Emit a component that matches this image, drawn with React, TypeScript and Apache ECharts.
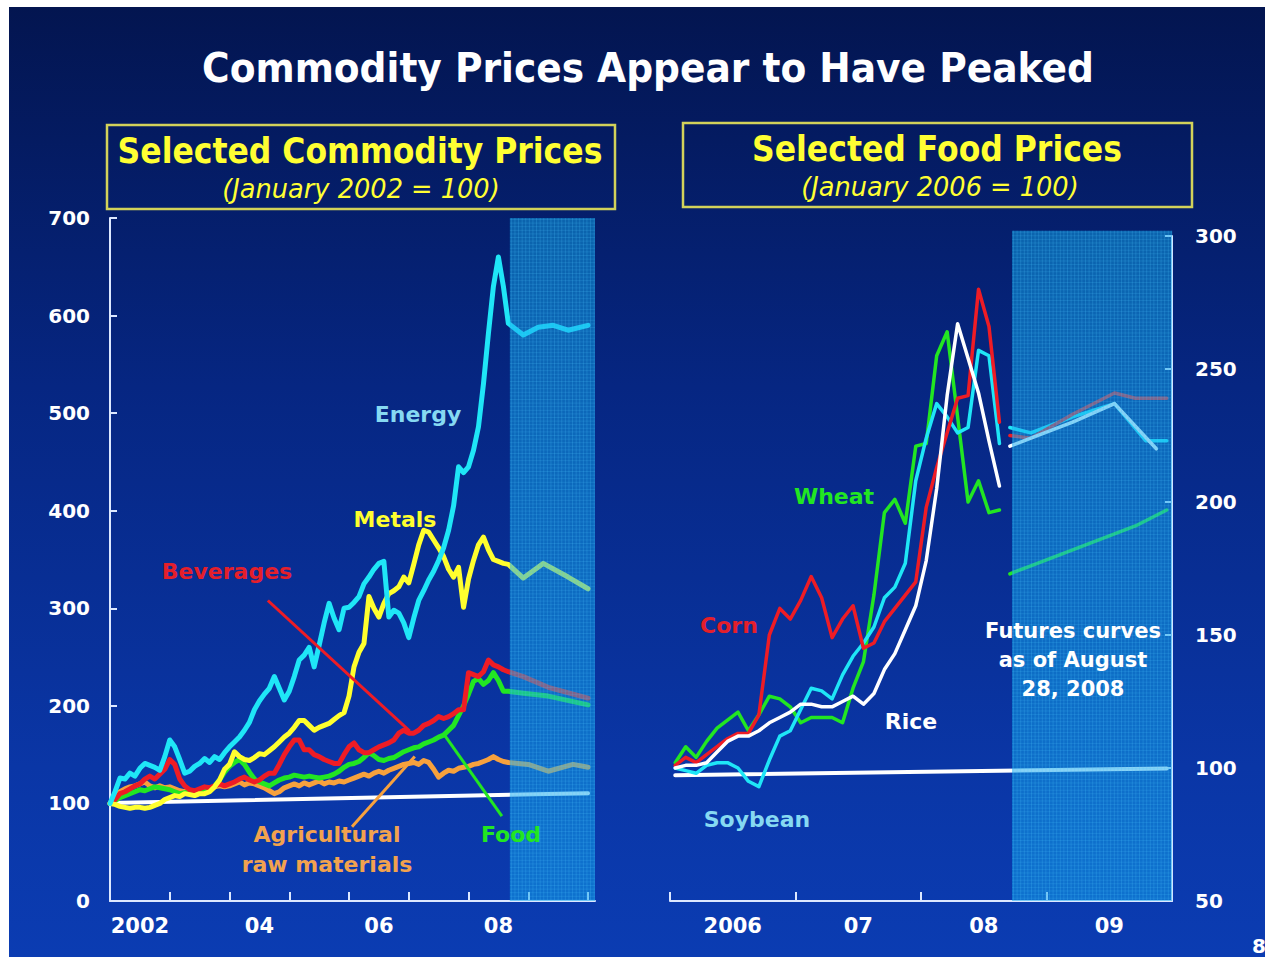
import React, { useEffect, useRef } from "react";
import * as echarts from "echarts";

const FONT = '"DejaVu Sans", Verdana, sans-serif';

// ---------- Left panel: months since January 2002 ----------
const leftTickMonths = [0, 12, 24, 36, 48, 60, 72, 84, 96];
const leftLabelMonths = [6, 30, 54, 78];
const leftTickLabels = ["2002", "04", "06", "08"];
const leftForecastSpan = [80.3, 97.4];

const energy = [100, 112, 126, 125, 131, 128, 136, 141, 139, 137, 134, 148,
  165, 158, 145, 131, 133, 138, 141, 146, 142, 148, 145, 152,
  158, 163, 168, 175, 183, 196, 205, 212, 218, 230, 218, 206,
  215, 230, 247, 252, 260, 240, 262, 285, 305, 290, 278, 300,
  301, 306, 312, 325, 332, 340, 346, 348, 291, 298, 295, 285,
  270, 290, 308, 318, 329, 338, 349, 362, 380, 405, 445, 439,
  445, 462, 486, 530, 582, 630, 660, 630];
const energyFutures = [[80, 592], [83, 580], [86, 588], [89, 590], [92, 585], [96, 590]];

const metals = [100, 99, 97, 96, 95, 96, 96, 95, 96, 98, 100, 104,
  106, 108, 107, 110, 109, 108, 110, 110, 112, 117, 124, 135,
  140, 153, 148, 145, 144, 147, 151, 150, 154, 158, 163, 168,
  172, 178, 185, 185, 180, 175, 178, 180, 182, 186, 190, 193,
  210, 240, 255, 264, 312, 300, 291, 305, 315, 318, 322, 332,
  326, 345, 365, 380, 378, 370, 362, 353, 340, 332, 342, 301,
  330, 349, 365, 373, 360, 350, 348, 346];
const metalsFutures = [[80, 345], [83, 331], [87, 346], [92, 332], [96, 320]];

const beverages = [100, 104, 110, 112, 115, 118, 120, 125, 128, 125, 130, 135,
  145, 140, 125, 118, 114, 113, 115, 117, 116, 118, 120, 118,
  120, 122, 125, 127, 124, 122, 124, 128, 131, 131, 140, 150,
  158, 165, 165, 155, 155, 150, 148, 145, 143, 141, 141, 150,
  158, 162, 155, 152, 152, 155, 158, 160, 162, 165, 172, 175,
  172, 172, 175, 180, 182, 185, 189, 187, 189, 192, 196, 196,
  234, 232, 230, 235, 247, 242, 240, 237];
const beveragesFutures = [[80, 235], [83, 230], [88, 219], [96, 208]];

const food = [100, 103, 106, 108, 110, 112, 114, 113, 115, 117, 116, 115,
  114, 112, 110, 111, 112, 110, 112, 113, 115, 118, 124, 132,
  138, 142, 145, 140, 132, 125, 122, 120, 118, 121, 124, 126,
  127, 129, 128, 127, 128, 127, 126, 127, 128, 130, 133, 137,
  140, 141, 143, 147, 152, 149, 145, 144, 146, 147, 150, 153,
  155, 157, 158, 161, 163, 165, 168, 170, 175, 180, 190, 200,
  212, 225, 228, 222, 226, 234, 226, 215];
const foodFutures = [[80, 215], [83, 213], [88, 210], [96, 201]];

const agri = [100, 108, 112, 115, 117, 118, 120, 122, 118, 116, 118, 116,
  117, 115, 113, 112, 113, 112, 114, 116, 115, 117, 118, 117,
  118, 120, 122, 119, 121, 120, 118, 116, 113, 110, 112, 116,
  118, 120, 118, 121, 119, 121, 123, 120, 122, 121, 123, 122,
  124, 126, 128, 130, 128, 131, 133, 131, 134, 136, 138, 140,
  141, 142, 140, 144, 142, 135, 127, 131, 134, 133, 136, 137,
  138, 140, 141, 143, 145, 148, 145, 143];
const agriFutures = [[80, 142], [84, 140], [88, 133], [93, 140], [96, 137]];

const leftBaseline = [[0, 100.4], [96, 110.5]];

// annotation pointers (data space: [month, index])
const beveragesPointer = [[31.7, 308], [60.2, 174]];
const agriPointer = [[48.6, 76], [61.2, 148]];
const foodPointer = [[66.9, 172], [78.7, 87]];

// ---------- Right panel: months since January 2006 ----------
const rightTickMonths = [0, 12, 24, 36, 48];
const rightLabelMonths = [6, 18, 30, 42];
const rightTickLabels = ["2006", "07", "08", "09"];
const rightForecastSpan = [32.7, 48];

const corn = [101, 104, 102, 105, 108, 111, 113, 113, 120, 150, 160, 156,
  163, 172, 164, 149, 156, 161, 145, 147, 155, 160, 165, 170,
  198, 213, 226, 239, 240, 280, 266, 230];
const cornFutures = [[32.5, 225], [34.5, 224], [38.5, 233], [42.5, 241], [44.5, 239], [47.5, 239]];

const wheat = [102, 108, 104, 110, 115, 118, 121, 114, 120, 127, 126, 123,
  117, 119, 119, 119, 117, 130, 140, 165, 196, 201, 192, 221,
  222, 255, 264, 232, 200, 208, 196, 197];
const wheatFutures = [[32.5, 173], [34.5, 176], [38.5, 182], [42.5, 188], [44.5, 191], [47.5, 197]];

const soybean = [100, 99, 98, 101, 102, 102, 100, 95, 93, 103, 112, 114,
  122, 130, 129, 126, 135, 142, 147, 153, 164, 168, 177, 208,
  224, 237, 232, 226, 228, 257, 255, 222];
const soybeanFutures = [[32.5, 228], [34.5, 226], [38.5, 232], [42.5, 237], [45.5, 223], [47.5, 223]];

const rice = [100, 101, 101, 102, 106, 110, 112, 112, 114, 117, 119, 121,
  124, 124, 123, 123, 125, 127, 124, 128, 137, 143, 152, 161,
  178, 205, 240, 267, 254, 241, 223, 206];
const riceFutures = [[32.5, 221], [34.5, 224], [38.5, 230], [42.5, 237], [46.5, 220]];

const rightBaseline = [[0.5, 97.3], [47.5, 99.8]];

// ---------- colours ----------
const C_ENERGY = "#1fe6f7";
const C_METALS = "#ffff2e";
const C_BEV = "#ee1c25";
const C_FOOD = "#22e622";
const C_AGRI = "#f7a13d";
const C_WHITE = "#ffffff";
const AXIS = "#dde8ff";
const YELLOW = "#ffff33";

const leftHist = (arr: number[]) => arr.map((v, i) => [i, v]);
const rightHist = (arr: number[]) => arr.map((v, i) => [i + 0.5, v]);

function shadeRender(params: any, api: any) {
  const tl = api.coord([api.value(0), api.value(3)]);
  const br = api.coord([api.value(1), api.value(2)]);
  const x0 = tl[0], y0 = tl[1], x1 = br[0], y1 = br[1];
  const children: any[] = [
    { type: "rect", shape: { x: x0, y: y0, width: x1 - x0, height: y1 - y0 }, style: { fill: "rgba(18,168,238,0.5)" } },
  ];
  for (let x = x0 + 1.5; x < x1; x += 3.6) {
    children.push({ type: "line", shape: { x1: x, y1: y0, x2: x, y2: y1 }, style: { stroke: "rgba(80,200,255,0.22)", lineWidth: 1 } });
  }
  for (let y = y0 + 1.5; y < y1; y += 3.6) {
    children.push({ type: "line", shape: { x1: x0, y1: y, x2: x1, y2: y }, style: { stroke: "rgba(80,200,255,0.18)", lineWidth: 1 } });
  }
  return { type: "group", children };
}

function lineSeries(name: string, data: any[], color: string, width: number, axis: number, z = 2, extra: any = {}) {
  return {
    name,
    type: "line",
    xAxisIndex: axis,
    yAxisIndex: axis,
    data,
    showSymbol: false,
    symbol: "none",
    z,
    lineStyle: { color, width, join: "round", cap: "round" },
    ...extra,
  };
}

function pointer(coords: number[][], color: string) {
  return {
    silent: true,
    symbol: ["none", "none"],
    label: { show: false },
    lineStyle: { color, width: 3, type: "solid" },
    emphasis: { disabled: true },
    data: [[{ coord: coords[0] }, { coord: coords[1] }]],
  };
}

function txt(text: string, x: number, y: number, color: string, size: number, extra: any = {}, scaleX = 1) {
  return {
    type: "text",
    x,
    y,
    z: 50,
    scaleX,
    silent: true,
    style: {
      text,
      fill: color,
      fontSize: size,
      fontWeight: "bold",
      fontFamily: FONT,
      align: "center",
      verticalAlign: "middle",
      textAlign: "center",
      textVerticalAlign: "middle",
      ...extra,
    },
  };
}

const axisLabelStyle = { color: "#ffffff", fontWeight: "bold", fontFamily: FONT, fontSize: 20 };
const axisLineStyle = { show: true, onZero: false, lineStyle: { color: AXIS, width: 2 } };

export default function App() {
  const ref = useRef<HTMLDivElement>(null);

  useEffect(() => {
    if (!ref.current) return;
    const chart = echarts.init(ref.current, null, { renderer: "svg" });
    const option: any = {
      animation: false,
      grid: [
        { left: 110, top: 218, width: 485, height: 683 },
        { left: 670, top: 236, width: 502, height: 665 },
      ],
      xAxis: [
        {
          type: "value", gridIndex: 0, min: 0, max: 97.4,
          axisLine: axisLineStyle,
          axisTick: { show: true, inside: true, length: 9, customValues: leftTickMonths, lineStyle: { color: AXIS, width: 2 } },
          axisLabel: {
            show: true, customValues: leftLabelMonths, margin: 14, ...axisLabelStyle, fontSize: 21,
            formatter: (v: number) => leftTickLabels[leftLabelMonths.indexOf(v)] ?? "",
          },
          splitLine: { show: false },
        },
        {
          type: "value", gridIndex: 1, min: 0, max: 48,
          axisLine: axisLineStyle,
          axisTick: { show: true, inside: true, length: 9, customValues: rightTickMonths, lineStyle: { color: AXIS, width: 2 } },
          axisLabel: {
            show: true, customValues: rightLabelMonths, margin: 14, ...axisLabelStyle, fontSize: 21,
            formatter: (v: number) => rightTickLabels[rightLabelMonths.indexOf(v)] ?? "",
          },
          splitLine: { show: false },
        },
      ],
      yAxis: [
        {
          type: "value", gridIndex: 0, min: 0, max: 700, interval: 100,
          axisLine: axisLineStyle,
          axisTick: { show: true, inside: true, length: 7, lineStyle: { color: AXIS, width: 2 } },
          axisLabel: { margin: 20, ...axisLabelStyle },
          splitLine: { show: false },
        },
        {
          type: "value", gridIndex: 1, position: "right", min: 50, max: 300, interval: 50,
          axisLine: axisLineStyle,
          axisTick: { show: true, inside: true, length: 7, lineStyle: { color: AXIS, width: 2 } },
          axisLabel: { margin: 23, ...axisLabelStyle },
          splitLine: { show: false },
        },
      ],
      series: [
        lineSeries("Baseline L", leftBaseline, C_WHITE, 4, 0, 2),
        lineSeries("Agricultural raw materials", leftHist(agri).concat(agriFutures), C_AGRI, 5, 0, 3, { markLine: pointer(agriPointer, C_AGRI) }),
        lineSeries("Food", leftHist(food).concat(foodFutures), C_FOOD, 5, 0, 3, { markLine: pointer(foodPointer, C_FOOD) }),
        lineSeries("Beverages", leftHist(beverages).concat(beveragesFutures), C_BEV, 5, 0, 3, { markLine: pointer(beveragesPointer, C_BEV) }),
        lineSeries("Metals", leftHist(metals).concat(metalsFutures), C_METALS, 5, 0, 3),
        lineSeries("Energy", leftHist(energy).concat(energyFutures), C_ENERGY, 5, 0, 3),
        {
          type: "custom", xAxisIndex: 0, yAxisIndex: 0, z: 6, silent: true,
          renderItem: shadeRender,
          encode: { x: [0, 1], y: [2, 3] },
          data: [[leftForecastSpan[0], leftForecastSpan[1], 0, 700]],
        },
        lineSeries("Baseline R", rightBaseline, C_WHITE, 4, 1, 2),
        lineSeries("Wheat", rightHist(wheat), C_FOOD, 3.5, 1, 3),
        lineSeries("Wheat futures", wheatFutures, C_FOOD, 3.5, 1, 3),
        lineSeries("Soybean", rightHist(soybean), C_ENERGY, 3.5, 1, 3),
        lineSeries("Soybean futures", soybeanFutures, C_ENERGY, 3.5, 1, 3),
        lineSeries("Corn", rightHist(corn), C_BEV, 3.5, 1, 3),
        lineSeries("Corn futures", cornFutures, C_BEV, 3.5, 1, 3),
        lineSeries("Rice", rightHist(rice), C_WHITE, 3.5, 1, 3),
        lineSeries("Rice futures", riceFutures, C_WHITE, 3.5, 1, 3),
        {
          type: "custom", xAxisIndex: 1, yAxisIndex: 1, z: 6, silent: true,
          renderItem: shadeRender,
          encode: { x: [0, 1], y: [2, 3] },
          data: [[rightForecastSpan[0], rightForecastSpan[1], 50, 302]],
        },
      ],
      graphic: {
        elements: [
          txt("Commodity Prices Appear to Have Peaked", 648, 68, "#ffffff", 40, {}, 0.94),
          { type: "rect", z: 50, silent: true, shape: { x: 107, y: 125, width: 508, height: 84 }, style: { fill: "none", stroke: "#d2d25a", lineWidth: 2.5 } },
          { type: "rect", z: 50, silent: true, shape: { x: 683, y: 123, width: 509, height: 84 }, style: { fill: "none", stroke: "#d2d25a", lineWidth: 2.5 } },
          txt("Selected Commodity Prices", 360, 151, YELLOW, 35, {}, 0.9),
          txt("(January 2002 = 100)", 361, 189, YELLOW, 27, { fontWeight: "normal", fontStyle: "italic" }, 0.95),
          txt("Selected Food Prices", 937, 149, YELLOW, 35, {}, 0.9),
          txt("(January 2006 = 100)", 940, 187, YELLOW, 27, { fontWeight: "normal", fontStyle: "italic" }, 0.95),
          txt("Energy", 418, 414, "#86d9f2", 22),
          txt("Metals", 395, 519, C_METALS, 22),
          txt("Beverages", 227, 571, "#e41f2b", 22),
          txt("Agricultural", 327, 834, "#f2a24e", 22),
          txt("raw materials", 327, 864, "#f2a24e", 22),
          txt("Food", 511, 834, C_FOOD, 22),
          txt("Wheat", 834, 496, C_FOOD, 22),
          txt("Corn", 729, 625, "#e41f2b", 22),
          txt("Rice", 911, 721, "#ffffff", 22),
          txt("Soybean", 757, 819, "#86d9f2", 22),
          txt("Futures curves\nas of August\n28, 2008", 1073, 660, "#ffffff", 21, { lineHeight: 29 }),
          txt("8", 1259, 946, "#ffffff", 20),
        ],
      },
    };
    chart.setOption(option);
    return () => chart.dispose();
  }, []);

  return (
    <div style={{ position: "fixed", left: 0, top: 0, width: 1265, height: 957, background: "#ffffff" }}>
      <div
        style={{
          position: "absolute", left: 9, top: 7, width: 1256, height: 950,
          background: "linear-gradient(180deg, #031550 0%, #062682 40%, #0a36a6 80%, #0b3cb2 100%)",
        }}
      />
      <div ref={ref} style={{ position: "absolute", left: 0, top: 0, width: 1265, height: 957 }} />
    </div>
  );
}
